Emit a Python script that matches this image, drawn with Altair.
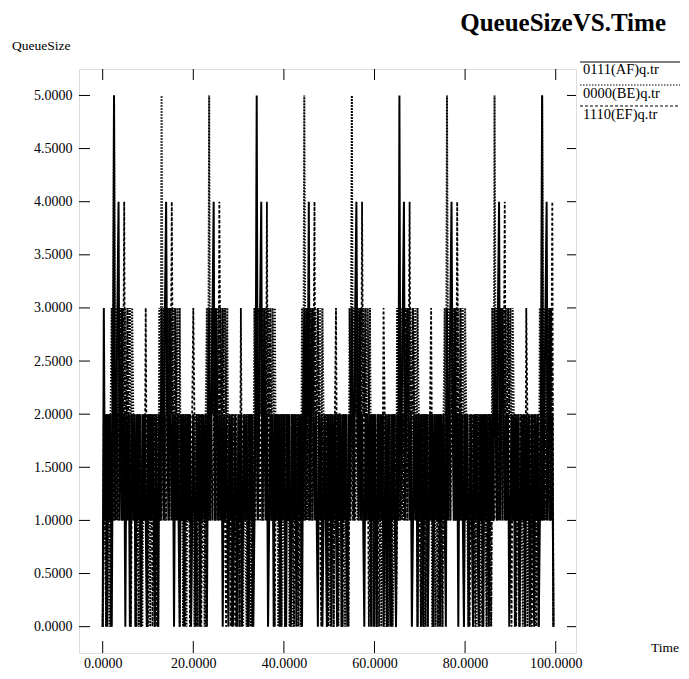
import altair as alt
import pandas as pd

# sampling interval of the queue trace (time units)
DT = 0.25

# 0111(AF) queue size samples (one line ~ one burst period)
AF = [
    0, 3, 1, 2, 0, 2, 1, 2, 0, 2, 5, 1, 2, 3, 4, 1, 2, 3, 1, 2, 0, 2, 1, 2, 0, 1, 2, 1, 2, 0, 2, 1, 2, 1, 0, 2, 1, 2, 1, 0, 2, 1,
    2, 1, 2, 1, 0, 2, 1, 0, 2, 1, 3, 2, 1, 3, 4, 2, 1, 3, 2, 1, 2, 0, 2, 1, 2, 1, 0, 2, 1, 2, 0, 2, 1, 2, 1, 2, 0, 1, 2, 1, 0, 2,
    1, 2, 0, 2, 1, 2, 1, 2, 0, 2, 3, 1, 2, 3, 4, 1, 3, 2, 1, 2, 1, 2, 0, 2, 1, 2, 1, 0, 2, 1, 2, 0, 1, 2, 1, 0, 2, 1, 2, 0, 1, 2,
    1, 2, 1, 0, 2, 1, 2, 0, 1, 2, 5, 1, 2, 3, 4, 1, 2, 3, 1, 2, 0, 1, 2, 1, 2, 0, 2, 1, 2, 1, 2, 0, 2, 1, 2, 1, 0, 2, 1, 2, 0, 1,
    2, 1, 2, 0, 1, 2, 1, 2, 0, 2, 3, 1, 3, 2, 4, 1, 2, 3, 2, 1, 2, 1, 0, 2, 1, 2, 0, 1, 2, 1, 0, 2, 1, 2, 0, 2, 1, 2, 1, 0, 2, 1,
    2, 0, 2, 1, 2, 1, 0, 2, 1, 2, 3, 2, 1, 3, 4, 2, 1, 3, 1, 2, 1, 0, 2, 1, 2, 1, 2, 0, 2, 1, 2, 1, 0, 2, 1, 2, 1, 2, 0, 1, 2, 0,
    2, 1, 0, 2, 1, 2, 1, 0, 2, 1, 5, 1, 2, 3, 4, 1, 2, 3, 2, 1, 2, 0, 1, 2, 1, 2, 0, 2, 1, 2, 1, 0, 2, 1, 2, 0, 1, 2, 1, 2, 0, 2,
    1, 2, 1, 2, 0, 2, 1, 2, 1, 0, 3, 1, 2, 3, 4, 2, 1, 3, 1, 2, 0, 2, 1, 2, 1, 0, 2, 1, 2, 0, 1, 2, 1, 0, 2, 1, 2, 1, 0, 2, 1, 2,
    0, 2, 1, 2, 1, 0, 2, 1, 2, 1, 3, 2, 1, 3, 4, 1, 2, 3, 2, 1, 2, 1, 2, 0, 1, 2, 1, 2, 0, 2, 1, 2, 0, 1, 2, 1, 2, 0, 2, 1, 2, 0,
    1, 2, 1, 0, 2, 1, 2, 0, 1, 2, 5, 1, 2, 3, 4, 1, 2, 3, 1, 2, 0,
]

# 0000(BE) queue size samples
BE = [
    0, 1, 2, 0, 2, 1, 0, 2, 3, 1, 5, 2, 3, 1, 3, 2, 3, 1, 3, 2, 3, 1, 3, 2, 3, 1, 3, 2, 2, 0, 1, 2, 0, 2, 1, 0, 2, 1, 2, 0, 1, 2,
    0, 2, 1, 2, 0, 1, 2, 0, 3, 1, 5, 2, 3, 1, 3, 2, 3, 1, 3, 2, 3, 1, 3, 2, 3, 1, 3, 1, 2, 0, 2, 1, 0, 2, 1, 2, 0, 1, 2, 0, 2, 1,
    0, 2, 0, 1, 2, 1, 0, 2, 3, 1, 5, 1, 3, 2, 3, 1, 3, 2, 3, 1, 3, 2, 3, 1, 3, 2, 3, 1, 2, 1, 0, 2, 1, 2, 0, 1, 2, 0, 2, 1, 0, 2,
    1, 0, 2, 1, 2, 0, 2, 1, 3, 2, 3, 1, 3, 2, 3, 1, 3, 2, 3, 1, 3, 2, 3, 1, 3, 2, 3, 1, 2, 0, 1, 2, 0, 2, 1, 0, 2, 1, 2, 0, 1, 2,
    0, 2, 1, 2, 0, 1, 2, 0, 3, 1, 5, 2, 3, 1, 3, 2, 3, 1, 3, 2, 3, 1, 3, 2, 3, 1, 3, 2, 1, 2, 0, 1, 2, 0, 2, 1, 0, 2, 1, 2, 0, 1,
    2, 0, 1, 2, 0, 2, 1, 0, 3, 2, 5, 1, 3, 2, 3, 1, 3, 2, 3, 1, 3, 2, 3, 1, 3, 2, 3, 1, 2, 0, 2, 1, 0, 2, 1, 2, 0, 1, 2, 0, 2, 1,
    0, 2, 1, 2, 0, 1, 2, 0, 3, 1, 3, 2, 3, 1, 3, 2, 3, 1, 3, 2, 3, 1, 3, 2, 3, 1, 3, 2, 2, 0, 1, 2, 0, 2, 1, 0, 2, 1, 2, 0, 1, 2,
    0, 1, 2, 0, 2, 1, 0, 2, 3, 1, 5, 2, 3, 1, 3, 2, 3, 1, 3, 2, 3, 1, 3, 2, 3, 1, 3, 2, 1, 0, 2, 1, 2, 0, 1, 2, 0, 2, 1, 0, 2, 1,
    0, 2, 1, 0, 2, 1, 2, 0, 3, 1, 5, 2, 3, 1, 3, 2, 3, 1, 3, 2, 3, 1, 3, 2, 3, 1, 3, 2, 2, 0, 1, 2, 0, 2, 1, 0, 2, 1, 2, 0, 1, 2,
    0, 2, 1, 2, 0, 1, 2, 0, 3, 1, 5, 2, 3, 1, 3, 2, 3, 1, 3, 2, 0,
]

# 1110(EF) queue size samples
EF = [
    0, 2, 1, 0, 2, 1, 2, 0, 1, 2, 1, 2, 1, 2, 1, 3, 2, 1, 2, 4, 1, 2, 3, 1, 2, 0, 2, 1, 2, 1, 0, 2, 1, 2, 0, 1, 2, 1, 3, 1, 0, 2,
    1, 2, 0, 1, 2, 1, 0, 2, 1, 2, 1, 2, 1, 2, 1, 3, 2, 1, 2, 4, 2, 1, 3, 2, 1, 2, 0, 2, 1, 2, 1, 0, 2, 1, 2, 0, 1, 2, 3, 2, 1, 0,
    2, 1, 2, 0, 1, 2, 1, 0, 2, 1, 2, 1, 2, 1, 2, 3, 1, 2, 1, 4, 2, 1, 3, 2, 1, 0, 2, 1, 2, 0, 1, 2, 1, 0, 2, 1, 2, 0, 3, 1, 2, 1,
    1, 2, 0, 2, 1, 2, 0, 1, 2, 1, 2, 1, 2, 1, 2, 3, 1, 2, 1, 4, 1, 2, 3, 1, 2, 1, 0, 2, 1, 2, 0, 1, 2, 1, 2, 0, 2, 1, 2, 1, 0, 2,
    1, 0, 2, 1, 2, 0, 1, 2, 1, 2, 1, 2, 1, 2, 1, 3, 2, 1, 2, 4, 1, 2, 3, 2, 1, 0, 2, 1, 2, 1, 2, 0, 1, 2, 1, 2, 0, 2, 3, 1, 0, 2,
    2, 1, 0, 2, 1, 2, 1, 0, 2, 1, 2, 1, 2, 1, 2, 3, 1, 2, 1, 4, 2, 1, 3, 1, 2, 0, 1, 2, 1, 2, 0, 2, 1, 2, 0, 1, 2, 1, 3, 2, 1, 0,
    1, 2, 1, 0, 2, 1, 2, 0, 1, 2, 1, 2, 1, 2, 1, 3, 2, 1, 2, 4, 1, 2, 3, 2, 1, 2, 0, 2, 1, 0, 2, 1, 2, 0, 1, 2, 1, 2, 3, 1, 0, 2,
    1, 2, 0, 1, 2, 1, 0, 2, 1, 2, 2, 1, 2, 1, 2, 3, 1, 2, 1, 4, 2, 1, 3, 1, 2, 0, 2, 1, 2, 1, 0, 2, 1, 2, 1, 0, 2, 1, 2, 1, 2, 0,
    2, 1, 2, 0, 1, 2, 1, 0, 2, 1, 1, 2, 1, 2, 1, 3, 2, 1, 2, 4, 1, 2, 3, 2, 1, 0, 2, 1, 2, 0, 1, 2, 0, 2, 1, 2, 1, 0, 3, 2, 1, 2,
    1, 0, 2, 1, 2, 0, 1, 2, 1, 2, 1, 2, 1, 2, 1, 3, 2, 1, 2, 4, 0,
]

SERIES = ["0111(AF)q.tr", "0000(BE)q.tr", "1110(EF)q.tr"]
Y_TICKS = [0.0, 0.5, 1.0, 1.5, 2.0, 2.5, 3.0, 3.5, 4.0, 4.5, 5.0]
X_TICKS = [0, 20, 40, 60, 80, 100]
TITLE = "QueueSizeVS.Time"
Y_TITLE = "QueueSize"
X_TITLE = "Time"

FONT = "Liberation Serif"
W, H = 497, 584
XDOM = [-5.23, 104.48]
YDOM = [-0.248, 5.249]

xs = alt.Scale(domain=XDOM, nice=False, zero=False)
ys = alt.Scale(domain=YDOM, nice=False, zero=False)
x_axis = alt.Axis(values=X_TICKS, format=".4f", title=None, ticks=False, domain=False,
                  grid=False, labelFont=FONT, labelFontSize=14, labelColor="black",
                  labelPadding=3, labelFlush=False, labelOverlap=False)
y_axis = alt.Axis(values=Y_TICKS, format=".4f", title=None, ticks=False, domain=False,
                  grid=False, labelFont=FONT, labelFontSize=14, labelColor="black",
                  labelPadding=7, labelOverlap=False)
X_ENC = alt.X("t:Q", scale=xs, axis=x_axis)
Y_ENC = alt.Y("v:Q", scale=ys, axis=y_axis)


def series_df(vals, name):
    return pd.DataFrame({"t": [i * DT for i in range(len(vals))], "v": vals, "s": name})


styles = [
    dict(strokeWidth=2.0),
    dict(strokeWidth=2.0, strokeDash=[1.5, 1.5]),
    dict(strokeWidth=1.8, strokeDash=[3, 2]),
]

layers = []
for vals, name, st in zip([EF, BE, AF], [SERIES[2], SERIES[1], SERIES[0]], [styles[2], styles[1], styles[0]]):
    layers.append(
        alt.Chart(series_df(vals, name)).mark_line(color="black", **st).encode(x=X_ENC, y=Y_ENC)
    )

# inward tick marks on all four sides
yt = pd.DataFrame({"v": Y_TICKS})
xt = pd.DataFrame({"t": X_TICKS})
layers.append(alt.Chart(yt).mark_rule(color="black", strokeWidth=1).encode(
    y=Y_ENC, x=alt.value(0), x2=alt.value(11)))
layers.append(alt.Chart(yt).mark_rule(color="black", strokeWidth=1).encode(
    y=Y_ENC, x=alt.value(W - 9), x2=alt.value(W)))
layers.append(alt.Chart(xt).mark_rule(color="black", strokeWidth=1).encode(
    x=X_ENC, y=alt.value(H - 12), y2=alt.value(H)))
layers.append(alt.Chart(xt).mark_rule(color="black", strokeWidth=1).encode(
    x=X_ENC, y=alt.value(0), y2=alt.value(11)))

# texts
layers.append(alt.Chart(pd.DataFrame({"label": [TITLE]})).mark_text(
    font=FONT, fontSize=25, fontWeight="bold", align="right", baseline="alphabetic", color="black"
).encode(text="label:N", x=alt.value(587), y=alt.value(-38)))
layers.append(alt.Chart(pd.DataFrame({"label": [Y_TITLE]})).mark_text(
    font=FONT, fontSize=13.5, align="left", baseline="middle", color="black"
).encode(text="label:N", x=alt.value(-67), y=alt.value(-23)))
layers.append(alt.Chart(pd.DataFrame({"label": [X_TITLE]})).mark_text(
    font=FONT, fontSize=13.5, align="left", baseline="middle", color="black"
).encode(text="label:N", x=alt.value(572), y=alt.value(579)))

# legend (outside, right of the frame)
leg_line_y = [-7, 16, 37]
leg_text_y = [1, 25, 46]
leg_dash = [None, [1.5, 1.5], [3, 2]]
for name, ly, ty, dash in zip(SERIES, leg_line_y, leg_text_y, leg_dash):
    kw = dict(color="black", strokeWidth=1.2)
    if dash:
        kw["strokeDash"] = dash
    layers.append(alt.Chart(pd.DataFrame({"label": [name]})).mark_rule(**kw).encode(
        x=alt.value(501), x2=alt.value(602), y=alt.value(ly)))
    layers.append(alt.Chart(pd.DataFrame({"label": [name]})).mark_text(
        font=FONT, fontSize=14.5, align="left", baseline="middle", color="black"
    ).encode(text="label:N", x=alt.value(504), y=alt.value(ty)))

chart = alt.layer(*layers).properties(
    width=W, height=H,
    autosize=alt.AutoSizeParams(type="none"),
    padding={"left": 71, "top": 61, "right": 104, "bottom": 18},
).configure_view(stroke="black", strokeWidth=1).configure(background="white")

chart.save("out.html", embed_options={"renderer": "svg", "actions": False})
